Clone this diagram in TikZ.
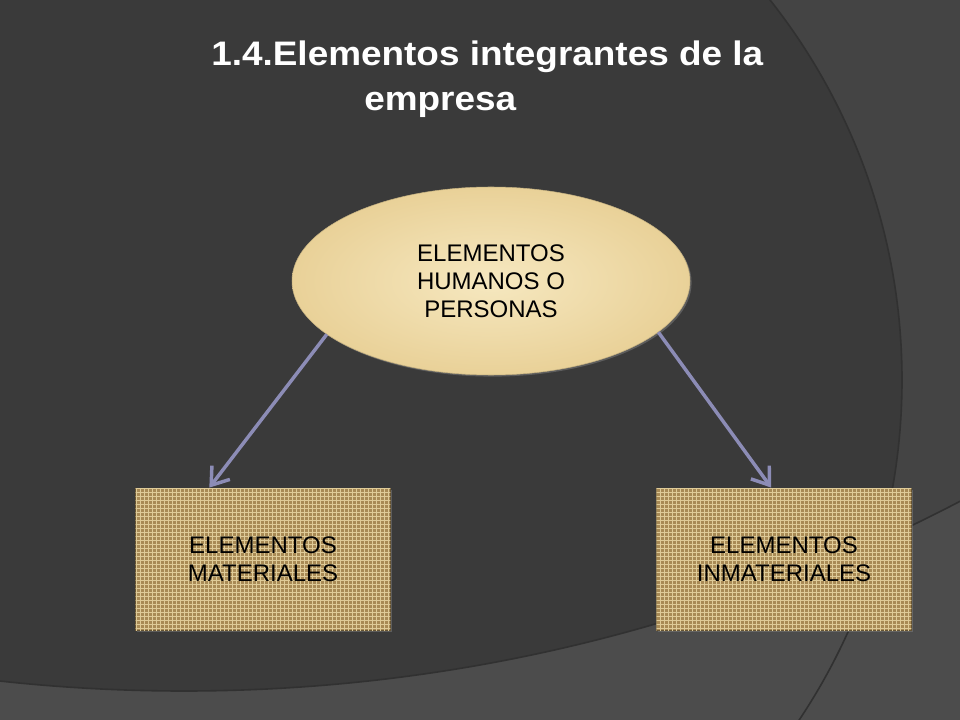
\documentclass[tikz,border=0pt]{standalone}
\usepackage{fontspec}
\setmainfont{Liberation Sans}
\newfontfamily\titulofuente[FakeStretch=1.086]{Liberation Sans}
\usetikzlibrary{arrows.meta, calc, positioning, shapes.geometric, patterns, shadows}
\definecolor{fondo}{HTML}{3A3A3A}
\definecolor{fondomedio}{HTML}{444444}
\definecolor{fondobajo}{HTML}{4C4C4C}
\definecolor{borde}{HTML}{313131}
\definecolor{papiro}{HTML}{F6E8C0}
\definecolor{papiroborde}{HTML}{E9D198}
\definecolor{yute}{HTML}{A88A55}
\definecolor{yutehilo}{HTML}{DFCB98}
\definecolor{flecha}{HTML}{8C8CB6}

\begin{document}
\begin{tikzpicture}[x=0.75pt,y=-0.75pt]
\tikzset{
  titulo/.style={text=white, font=\titulofuente\fontsize{25.5}{30}\selectfont\bfseries, inner sep=0pt, anchor=base west},
  humano/.style={ellipse, minimum width=298.5pt, minimum height=141pt, inner sep=0pt,
    inner color=papiro, outer color=papiroborde, draw=papiroborde!85!black, line width=0.4pt,
    align=center, font=\fontsize{18}{21}\selectfont,
    drop shadow={opacity=0.5, shadow xshift=1.2pt, shadow yshift=-1.2pt}},
  caja/.style={rectangle, minimum width=191pt, minimum height=106.5pt, inner sep=0pt,
    fill=yute, draw=yute!60!black, line width=0.6pt,
    postaction={pattern=grid, pattern color=yutehilo},
    align=center, font=\fontsize{18}{21}\selectfont,
    drop shadow={opacity=0.5, shadow xshift=1.2pt, shadow yshift=-1.2pt}},
  flechita/.style={draw=flecha, line width=2.6pt, -{Straight Barb[length=12pt,width=17pt]}}
}

\useasboundingbox (0,0) rectangle (960,720);

% fondo con arcos
\fill[fondobajo] (0,0) rectangle (960,720);
\begin{scope}
\clip (0,0) rectangle (960,720);
\fill[fondomedio] (184,-988) circle [radius=1679];
\begin{scope}
\clip (184,-988) circle [radius=1679];
\fill[fondo] (289,380) circle [radius=613];
\end{scope}
\draw[borde, line width=1.2pt] (289,380) circle [radius=613];
\draw[borde, line width=1.2pt] (184,-988) circle [radius=1679];
\end{scope}

% titulo
\node[titulo] (titulo1) at (211,66) {1.4.Elementos integrantes de la};
\node[titulo] (titulo2) at (364,111) {empresa};

% nodos
\node[humano] (humanos) at (491,281) {ELEMENTOS\\HUMANOS O\\PERSONAS};
\node[caja] (materiales) at (263,559) {ELEMENTOS\\MATERIALES};
\node[caja] (inmateriales) at (784,559) {ELEMENTOS\\INMATERIALES};

\coordinate (puntaA) at ($(materiales.north west)!0.29!(materiales.north east)$);
\coordinate (puntaB) at ($(inmateriales.north west)!0.45!(inmateriales.north east)$);

\draw[flechita] (humanos.198) -- (puntaA);
\draw[flechita] (humanos.343) -- (puntaB);
\end{tikzpicture}
\end{document}
